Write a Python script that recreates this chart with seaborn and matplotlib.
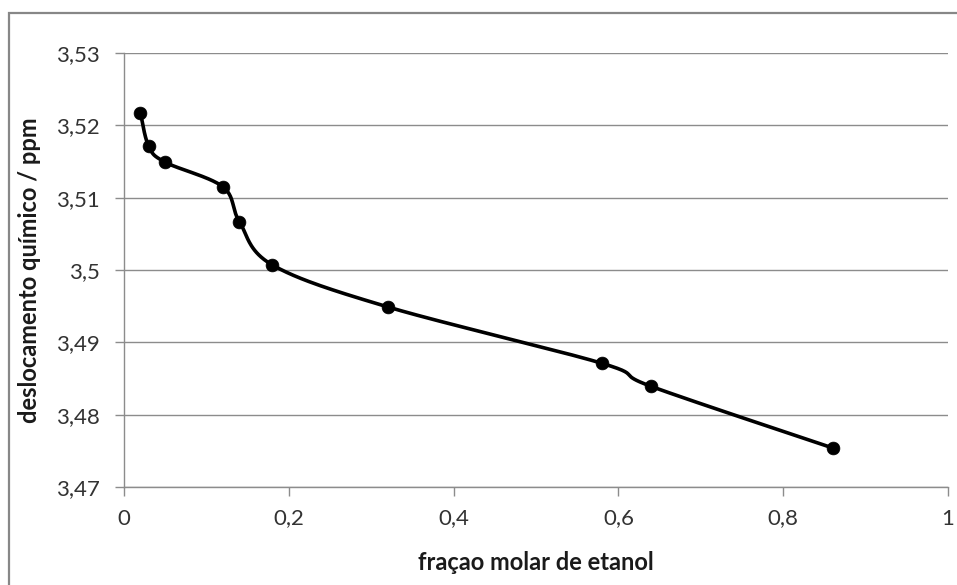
import numpy as np
import pandas as pd
import seaborn as sns
import matplotlib
matplotlib.use("Agg")
import matplotlib.pyplot as plt
from matplotlib.ticker import FuncFormatter
from matplotlib.patches import Rectangle

# ---- data ----
fracao_molar = [0.02, 0.03, 0.05, 0.12, 0.14, 0.18, 0.32, 0.58, 0.64, 0.86]
deslocamento = [3.5217, 3.5171, 3.5149, 3.5115, 3.5067, 3.5007, 3.4949, 3.4871, 3.4839, 3.4754]
x_ticks = [0, 0.2, 0.4, 0.6, 0.8, 1.0]
y_ticks = [3.47, 3.48, 3.49, 3.50, 3.51, 3.52, 3.53]
x_label = "fraçao molar de etanol"
y_label = "deslocamento químico / ppm"

sns.set_theme(style="white")
plt.rcParams['font.family'] = ['Lato', 'DejaVu Sans']

W, H = 957, 585
fig = plt.figure(figsize=(W / 100, H / 100), dpi=100)
fig.patch.set_facecolor("white")
ax = fig.add_axes([124 / W, 1 - 487 / H, (948 - 124) / W, (487 - 53) / H])

ax.set_xlim(x_ticks[0], x_ticks[-1])
ax.set_ylim(y_ticks[0], y_ticks[-1])

# Excel-style smoothed line (Bezier through the data points, in screen proportions)
xs = np.asarray(fracao_molar, float)
ys = np.asarray(deslocamento, float)
sx = 824.0 / (x_ticks[-1] - x_ticks[0])
sy = 434.0 / (y_ticks[-1] - y_ticks[0])
P = np.column_stack([xs * sx, ys * sy])
curve = []
n = len(P)
for i in range(n - 1):
    p0 = P[i - 1] if i > 0 else P[i]
    p1 = P[i]
    p2 = P[i + 1]
    p3 = P[i + 2] if i + 2 < n else P[i + 1]
    c1 = p1 + (p2 - p0) / 6.0
    c2 = p2 - (p3 - p1) / 6.0
    t = np.linspace(0, 1, 40)[:, None]
    seg = (1 - t) ** 3 * p1 + 3 * (1 - t) ** 2 * t * c1 + 3 * (1 - t) * t ** 2 * c2 + t ** 3 * p2
    curve.append(seg if i == 0 else seg[1:])
curve = np.vstack(curve)
curve_df = pd.DataFrame({"x": curve[:, 0] / sx, "y": curve[:, 1] / sy})
pts_df = pd.DataFrame({"x": fracao_molar, "y": deslocamento})

sns.lineplot(data=curve_df, x="x", y="y", sort=False, estimator=None, color="black",
             linewidth=2.6, ax=ax, zorder=3)
sns.scatterplot(data=pts_df, x="x", y="y", color="black", s=85, edgecolor="black",
                linewidth=0.5, ax=ax, zorder=4)

# grid & axes styling
ax.set_xticks(x_ticks)
ax.set_yticks(y_ticks)
fmt = FuncFormatter(lambda v, p: f"{round(v, 4):g}".replace(".", ","))
ax.xaxis.set_major_formatter(fmt)
ax.yaxis.set_major_formatter(fmt)
ax.grid(False)
ax.yaxis.grid(True, color="#8c8c8c", linewidth=1.0)
for s in ["top", "right"]:
    ax.spines[s].set_visible(False)
for s in ["left", "bottom"]:
    ax.spines[s].set_color("#8c8c8c")
    ax.spines[s].set_linewidth(1.0)
ax.tick_params(axis="both", which="major", direction="out", length=6.5, width=1.0,
               color="#8c8c8c", labelsize=16, labelcolor="#333333", pad=9,
               bottom=True, left=True)
ax.tick_params(axis="y", pad=11)

ax.set_xlabel(x_label, fontsize=17, fontweight="bold", color="#1a1a1a")
ax.set_ylabel(y_label, fontsize=17, fontweight="bold", color="#1a1a1a")
ax.xaxis.label.set_va("center")
ax.yaxis.label.set_va("center")
ax.xaxis.set_label_coords(0.5, (487 - 562) / 434)
ax.yaxis.set_label_coords((30 - 124) / 824, 0.5)

# chart-area frame
fig.add_artist(Rectangle((9 / W, -0.2), 1.5, (1 - 13 / H) + 0.2, transform=fig.transFigure,
                         fill=False, edgecolor="#878787", linewidth=1.6, clip_on=False))

fig.savefig("out.png", dpi=100, facecolor="white")
